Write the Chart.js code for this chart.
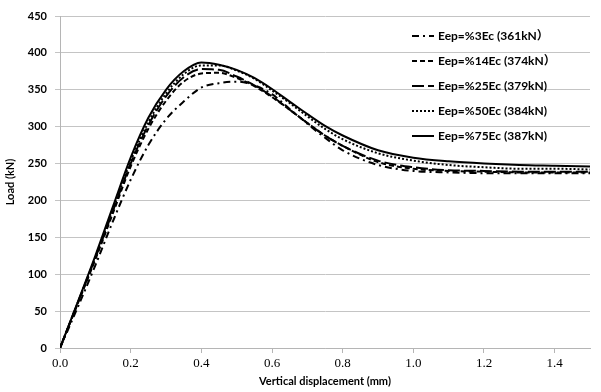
<!DOCTYPE html>
<html>
<head>
<meta charset="utf-8">
<script src="https://cdn.jsdelivr.net/npm/chart.js@4"></script>
<style>
  html, body { margin: 0; padding: 0; background: #fff; }
  #wrap { width: 601px; height: 392px; }
</style>
</head>
<body>
<div id="wrap"><canvas id="loadChart" width="601" height="392"></canvas></div>
<script>
// displacement (mm) shared by all curves
const dispX = [0, 0.05, 0.1, 0.15, 0.2, 0.25, 0.3, 0.35, 0.4, 0.45, 0.5, 0.55, 0.6, 0.65, 0.7, 0.75, 0.8, 0.9, 1.0, 1.1, 1.2, 1.3, 1.4, 1.5];

// load (kN)
const loadEp3  = [0, 55, 112, 172, 228, 275, 310, 334, 353, 359, 361, 356, 344, 324, 304, 285, 268, 248, 240, 238, 237, 237, 237, 237];
const loadEp14 = [0, 60, 120, 183, 246, 297, 335, 361, 372, 373, 366, 355, 340, 323, 305, 288, 274, 252, 243, 240, 239, 238, 238, 238];
const loadEp25 = [0, 61, 122, 186, 250, 302, 341, 367, 378, 377, 368, 356, 341, 323, 305, 288, 274, 254, 245, 241, 240, 239, 239, 239];
const loadEp50 = [0, 61, 123, 188, 253, 306, 345, 371, 383, 383, 376, 365, 349, 332, 314, 297, 283, 264, 254, 248, 245, 243, 243, 242];
const loadEp75 = [0, 62, 125, 192, 258, 312, 350, 375, 387, 384, 377, 366, 351, 334, 317, 301, 288, 268, 258, 253, 250, 248, 247, 246];

const seriesNames = ['Eep=%3Ec (361kN\uFF09', 'Eep=%14Ec (374kN\uFF09', 'Eep=%25Ec (379kN)', 'Eep=%50Ec (384kN)', 'Eep=%75Ec (387kN)'];
const seriesLoads = [loadEp3, loadEp14, loadEp25, loadEp50, loadEp75];
const seriesDash = [[7, 4, 2, 4], [5, 3], [12, 4], [2, 2], []];

const xTicks = [0, 0.2, 0.4, 0.6, 0.8, 1.0, 1.2, 1.4];

const datasets = seriesLoads.map((loads, i) => ({
  label: seriesNames[i],
  data: loads.map((v, j) => ({ x: dispX[j], y: v })),
  showLine: true,
  borderColor: '#000',
  borderWidth: 2,
  borderDash: seriesDash[i],
  pointRadius: 0,
  cubicInterpolationMode: 'monotone',
  fill: false
}));

// legend drawn inside the plot, like the original
const insideLegend = {
  id: 'insideLegend',
  afterDraw(chart) {
    const ctx = chart.ctx;
    const x0 = 412, y0 = 36, step = 25;
    ctx.save();
    chart.data.datasets.forEach((ds, i) => {
      const y = y0 + i * step;
      ctx.strokeStyle = '#000';
      ctx.lineWidth = 2;
      ctx.setLineDash(ds.borderDash);
      ctx.beginPath();
      ctx.moveTo(x0, y);
      ctx.lineTo(x0 + 22, y);
      ctx.stroke();
      ctx.setLineDash([]);
      ctx.fillStyle = '#000';
      ctx.font = 'bold 12px Lato, "Noto Sans CJK SC"';
      ctx.textBaseline = 'middle';
      ctx.textAlign = 'left';
      ctx.fillText(ds.label, x0 + 26, y);
    });
    ctx.restore();
  }
};

const loadChart = new Chart(document.getElementById('loadChart'), {
  type: 'scatter',
  data: { datasets: datasets },
  plugins: [insideLegend],
  options: {
    responsive: false,
    animation: false,
    layout: { padding: { left: 0, right: 11, top: 16, bottom: 0 } },
    plugins: {
      legend: { display: false },
      tooltip: { enabled: false }
    },
    scales: {
      x: {
        type: 'linear',
        min: 0,
        max: 1.5,
        afterFit(scale) { scale.height = 44; },
        afterBuildTicks(scale) { scale.ticks = xTicks.map(v => ({ value: v })); },
        grid: { drawOnChartArea: false, drawTicks: true, tickLength: 5, color: '#b5b5b5' },
        border: { color: '#b5b5b5' },
        ticks: {
          color: '#000',
          padding: 3,
          font: { family: '"Liberation Serif"', size: 13 },
          callback: v => v.toFixed(1)
        },
        title: {
          display: true,
          text: 'Vertical displacement (mm)',
          color: '#000',
          font: { family: 'Lato', size: 11, weight: 'bold' }
        }
      },
      y: {
        min: 0,
        max: 450,
        afterFit(scale) { scale.width = 60; },
        grid: { color: '#c4c4c4', drawTicks: true, tickLength: 5 },
        border: { color: '#b5b5b5' },
        ticks: {
          stepSize: 50,
          color: '#000',
          padding: 8,
          font: { family: 'Lato', size: 11, weight: 'bold' }
        },
        title: {
          display: true,
          text: 'Load (kN)',
          color: '#000',
          font: { family: 'Lato', size: 11, weight: 'bold' }
        }
      }
    }
  }
});
</script>
</body>
</html>
